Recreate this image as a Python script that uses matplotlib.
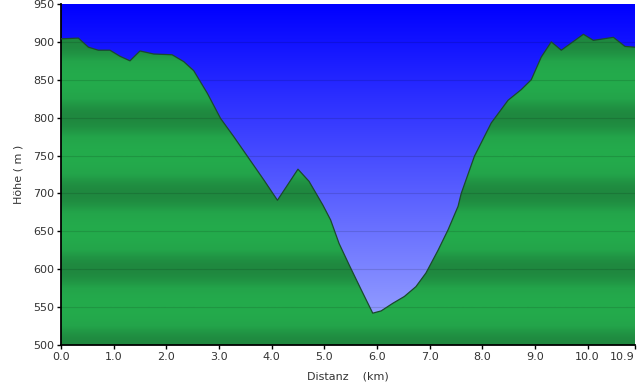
import numpy as np
import matplotlib
matplotlib.use("Agg")
import matplotlib.pyplot as plt
from matplotlib.colors import LinearSegmentedColormap

# elevation profile (km, m)
dist_km = [0.0, 0.33, 0.52, 0.71, 0.93, 1.12, 1.31, 1.50, 1.76, 2.11, 2.33, 2.52,
           2.78, 3.03, 3.28, 3.54, 3.85, 4.11, 4.50, 4.71, 4.97, 5.12, 5.28, 5.47,
           5.70, 5.92, 6.08, 6.30, 6.52, 6.74, 6.93, 7.16, 7.35, 7.54, 7.60, 7.85,
           8.17, 8.49, 8.74, 8.93, 9.12, 9.31, 9.50, 9.92, 10.11, 10.49, 10.71, 10.90]
elev_m = [904, 905, 893, 889, 889, 881, 875, 888, 884, 883, 874, 862,
          832, 799, 775, 749, 718, 691, 732, 716, 685, 665, 634, 606,
          573, 542, 545, 555, 564, 577, 595, 625, 652, 683, 700, 749,
          793, 823, 837, 850, 880, 900, 889, 910, 902, 906, 894, 893]

x_ticks = [0, 1, 2, 3, 4, 5, 6, 7, 8, 9, 10, 10.9]
x_labels = ["0.0", "1.0", "2.0", "3.0", "4.0", "5.0", "6.0", "7.0", "8.0", "9.0", "10.0", "10.9"]
y_ticks = list(range(500, 951, 50))

XMIN, XMAX, YMIN, YMAX = 0, 10.9, 500, 950


def main():
    fig = plt.figure(figsize=(6.4, 3.88), dpi=100)
    ax = fig.add_axes([61 / 640, 1 - 345 / 388, (635 - 61) / 640, (345 - 4) / 388])

    # sky: blue gradient, deep at the top, pale at the bottom
    sky = LinearSegmentedColormap.from_list("sky", ["#a0abff", "#0000ff"])
    grad = np.linspace(0, 1, 256).reshape(-1, 1)
    ax.imshow(grad, cmap=sky, origin="lower", aspect="auto",
              extent=[XMIN, XMAX, YMIN, YMAX], zorder=0)

    # terrain: green bands, darker around each hundred metres
    yy = np.linspace(YMIN, YMAX, 900)
    band = 0.5 - 0.5 * np.cos(2 * np.pi * ((yy - YMIN) % 100) / 100)
    green = LinearSegmentedColormap.from_list("green", ["#1f883f", "#23a44a", "#24ab4c"])
    terrain = ax.imshow(band.reshape(-1, 1), cmap=green, origin="lower", aspect="auto",
                        extent=[XMIN, XMAX, YMIN, YMAX], zorder=1, vmin=0, vmax=1)
    poly = ax.fill_between(dist_km, elev_m, YMIN, facecolor="none", edgecolor="none", zorder=1)
    terrain.set_clip_path(poly.get_paths()[0], transform=ax.transData)
    ax.plot(dist_km, elev_m, color="#1b4a2c", lw=0.9, zorder=3)

    for y in y_ticks[1:-1]:
        ax.axhline(y, color="black", alpha=0.12, lw=0.8, zorder=2)

    ax.set_xlim(XMIN, XMAX)
    ax.set_ylim(YMIN, YMAX)
    ax.set_xticks(x_ticks)
    ax.set_xticklabels(x_labels)
    ax.get_xticklabels()[-1].set_horizontalalignment("right")
    ax.set_yticks(y_ticks)
    ax.tick_params(labelsize=8, colors="#333333", length=3, width=1, pad=2)
    ax.tick_params(axis="both", color="black")
    for side in ("top", "right"):
        ax.spines[side].set_visible(False)
    for side in ("left", "bottom"):
        ax.spines[side].set_linewidth(1.3)
        ax.spines[side].set_color("black")

    ax.set_xlabel("Distanz    (km)", fontsize=8, color="#333333", labelpad=7)
    ax.set_ylabel("Höhe ( m )", fontsize=8, color="#333333", labelpad=7)

    fig.savefig("out.png", dpi=100)


if __name__ == "__main__":
    main()
